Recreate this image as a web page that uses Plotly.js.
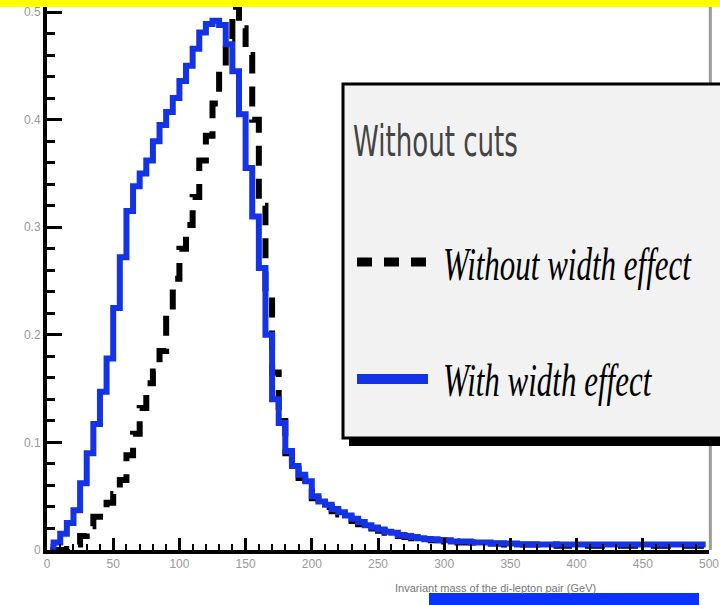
<!DOCTYPE html>
<html><head><meta charset="utf-8">
<script src="https://cdn.plot.ly/plotly-3.0.1.min.js"></script>
<style>html,body{margin:0;padding:0;background:#fff;} #chart{width:720px;height:605px;}</style>
</head><body><div id="chart"></div>
<script>
// ---- data (histogram, 5-unit bins) ----
const binCenters = [
  2.5,7.5,12.5,17.5,22.5,27.5,32.5,37.5,42.5,47.5,
  52.5,57.5,62.5,67.5,72.5,77.5,82.5,87.5,92.5,97.5,
  102.5,107.5,112.5,117.5,122.5,127.5,132.5,137.5,142.5,147.5,
  152.5,157.5,162.5,167.5,172.5,177.5,182.5,187.5,192.5,197.5,
  202.5,207.5,212.5,217.5,222.5,227.5,232.5,237.5,242.5,247.5,
  252.5,257.5,262.5,267.5,272.5,277.5,282.5,287.5,292.5,297.5,
  302.5,307.5,312.5,317.5,322.5,327.5,332.5,337.5,342.5,347.5,
  352.5,357.5,362.5,367.5,372.5,377.5,382.5,387.5,392.5,397.5,
  402.5,407.5,412.5,417.5,422.5,427.5,432.5,437.5,442.5,447.5,
  452.5,457.5,462.5,467.5,472.5,477.5,482.5,487.5,492.5,497.5
];
const withoutWidthEffect = [
  0,0,0,0.001,0.005,0.013,0.022,0.031,0.038,0.044,
  0.052,0.065,0.088,0.108,0.132,0.155,0.166,0.185,0.220,0.252,
  0.280,0.302,0.328,0.362,0.385,0.415,0.445,0.475,0.505,0.485,
  0.460,0.400,0.320,0.240,0.165,0.120,0.090,0.075,0.067,0.060,
  0.048,0.043,0.040,0.036,0.033,0.030,0.027,0.024,0.022,0.020,
  0.018,0.016,0.015,0.013,0.012,0.011,0.010,0.010,0.009,0.009,
  0.008,0.008,0.007,0.007,0.007,0.006,0.006,0.006,0.006,0.005,
  0.005,0.005,0.005,0.005,0.005,0.005,0.005,0.004,0.004,0.004,
  0.004,0.004,0.004,0.004,0.004,0.004,0.004,0.004,0.004,0.004,
  0.004,0.004,0.004,0.004,0.004,0.004,0.004,0.004,0.004,0.004
];
const withWidthEffect = [
  0.003,0.007,0.015,0.025,0.037,0.062,0.090,0.117,0.147,0.178,
  0.225,0.272,0.315,0.338,0.350,0.362,0.380,0.395,0.407,0.420,
  0.436,0.450,0.466,0.481,0.489,0.492,0.488,0.470,0.445,0.405,
  0.355,0.310,0.262,0.200,0.140,0.118,0.092,0.078,0.070,0.064,
  0.050,0.045,0.042,0.038,0.035,0.032,0.029,0.026,0.023,0.021,
  0.019,0.017,0.016,0.014,0.013,0.012,0.011,0.010,0.010,0.009,
  0.009,0.008,0.008,0.008,0.007,0.007,0.007,0.006,0.006,0.006,
  0.006,0.005,0.005,0.005,0.005,0.005,0.005,0.005,0.005,0.005,
  0.005,0.005,0.005,0.005,0.005,0.005,0.005,0.005,0.005,0.005,
  0.005,0.005,0.005,0.005,0.005,0.005,0.005,0.005,0.005,0.005
];
const seriesNames = ['Without width effect', 'With width effect'];
const legendTitle = 'Without cuts';
const xTickVals = [0,50,100,150,200,250,300,350,400,450,500];
const xTickText = ['0','50','100','150','200','250','300','350','400','450','500'];
const yTickVals = [0,0.1,0.2,0.3,0.4,0.5];
const yTickText = ['0','0.1','0.2','0.3','0.4','0.5'];
const xTitle = 'Invariant mass of the di-lepton pair (GeV)';

// ---- layout helpers (pixel -> paper) ----
const W = 720, H = 605, L = 47, R = 11, T = 0, B = 55;
const PW = W - L - R, PH = H - T - B;
const px = x => (x - L) / PW;
const py = y => (H - B - y) / PH;

const BLUE = '#1432e6';

const traces = [
  {x: binCenters, y: withoutWidthEffect, name: seriesNames[0], type: 'scatter', mode: 'lines',
   line: {shape: 'hvh', color: '#000', width: 6, dash: '20px,13px'}},
  {x: binCenters, y: withWidthEffect, name: seriesNames[1], type: 'scatter', mode: 'lines',
   line: {shape: 'hvh', color: BLUE, width: 6}}
];

const tickFont = {family: 'Liberation Sans, Arial, sans-serif', size: 12, color: '#999'};

const shapes = [
  {type: 'line', xref: 'paper', yref: 'paper', x0: 1.002, x1: 1.002, y0: 0, y1: 1.02,
   line: {color: '#9a9a9a', width: 3}},
  {type: 'rect', xref: 'paper', yref: 'paper', x0: px(349), x1: px(740), y0: py(446), y1: py(90),
   fillcolor: '#000', line: {width: 0}},
  {type: 'rect', xref: 'paper', yref: 'paper', x0: px(343), x1: px(735), y0: py(438), y1: py(84),
   fillcolor: '#f2f2f2', line: {color: '#000', width: 3}},
  {type: 'line', xref: 'paper', yref: 'paper', x0: px(357), x1: px(428), y0: py(262), y1: py(262),
   line: {color: '#000', width: 9, dash: '15px,12px'}},
  {type: 'line', xref: 'paper', yref: 'paper', x0: px(357), x1: px(428), y0: py(379), y1: py(379),
   line: {color: BLUE, width: 10}},
  {type: 'rect', xref: 'paper', yref: 'paper', x0: px(-5), x1: px(730), y0: py(7), y1: py(-5),
   fillcolor: '#ffff00', line: {width: 0}},
  {type: 'rect', xref: 'paper', yref: 'paper', x0: px(429), x1: px(699), y0: py(610), y1: py(593),
   fillcolor: '#0a32ff', line: {width: 0}}
];

const annotations = [
  {text: legendTitle, xref: 'paper', yref: 'paper', x: px(351), y: py(141), xanchor: 'left', yanchor: 'middle',
   showarrow: false, font: {family: 'DejaVu Sans Condensed, DejaVu Sans, sans-serif', size: 29, color: '#444'}},
  {text: '<i>' + seriesNames[0] + '</i>', xref: 'paper', yref: 'paper', x: px(441), y: py(264), xanchor: 'left', yanchor: 'middle',
   showarrow: false, font: {family: 'Liberation Serif, Times New Roman, serif', size: 31, color: '#000'}},
  {text: '<i>' + seriesNames[1] + '</i>', xref: 'paper', yref: 'paper', x: px(441), y: py(380), xanchor: 'left', yanchor: 'middle',
   showarrow: false, font: {family: 'Liberation Serif, Times New Roman, serif', size: 31, color: '#000'}},
  {text: xTitle, xref: 'paper', yref: 'paper', x: px(393), y: py(588), xanchor: 'left', yanchor: 'middle',
   showarrow: false, font: {family: 'Liberation Sans, Arial, sans-serif', size: 11, color: '#777'}}
];

const layout = {
  width: W, height: H,
  margin: {l: L, r: R, t: T, b: B, pad: 0},
  paper_bgcolor: '#fff', plot_bgcolor: '#fff',
  showlegend: false,
  xaxis: {
    range: [0, 500], tickmode: 'array', tickvals: xTickVals, ticktext: xTickText,
    ticks: 'inside', ticklen: 12, tickwidth: 3, tickcolor: '#000',
    showline: true, linecolor: '#000', linewidth: 4,
    showgrid: false, zeroline: false, tickfont: tickFont,
    minor: {tickmode: 'linear', tick0: 0, dtick: 10, ticks: 'inside', ticklen: 6, tickwidth: 2, tickcolor: '#000', showgrid: false}
  },
  yaxis: {
    range: [0, 0.5112], tickmode: 'array', tickvals: yTickVals, ticktext: yTickText,
    ticks: 'inside', ticklen: 15, tickwidth: 3, tickcolor: '#000',
    showline: true, linecolor: '#000', linewidth: 4,
    showgrid: false, zeroline: false, tickfont: tickFont,
    minor: {tickmode: 'linear', tick0: 0, dtick: 0.02, ticks: 'inside', ticklen: 8, tickwidth: 3, tickcolor: '#000', showgrid: false}
  },
  shapes: shapes,
  annotations: annotations
};

Plotly.newPlot('chart', traces, layout, {staticPlot: true, displayModeBar: false}).then(function () {
  // legend texts in the reference are drawn tall and narrow: stretch them vertically
  var texts = document.querySelectorAll('.annotation-text');
  for (var i = 0; i < 3 && i < texts.length; i++) {
    texts[i].style.transformBox = 'fill-box';
    texts[i].style.transformOrigin = 'center';
    texts[i].style.transform = 'scaleY(1.5)';
  }
});
</script>
</body></html>
